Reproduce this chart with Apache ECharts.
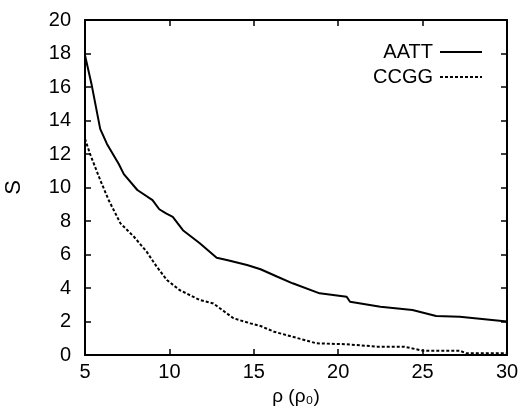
<!DOCTYPE html>
<html>
<head>
<meta charset="utf-8">
<script src="https://cdn.jsdelivr.net/npm/echarts@6/dist/echarts.min.js"></script>
<style>
  html, body { margin: 0; padding: 0; background: #fff; }
  #main { width: 521px; height: 412px; }
</style>
</head>
<body>
<div id="main"></div>
<script>
// 数据
var rhoA = [5, 5.4, 5.9, 6.3, 7.0, 7.3, 8.1, 9.0, 9.4, 9.8, 10.2, 10.8, 11.8, 12.8, 13.4, 14.6, 15.4, 16.4, 17.3, 18.9, 20.5, 20.7, 22.5, 24.4, 25.8, 27.2, 30];
var sA   = [17.9, 16.1, 13.5, 12.6, 11.4, 10.8, 9.85, 9.25, 8.7, 8.45, 8.25, 7.45, 6.67, 5.8, 5.67, 5.37, 5.12, 4.67, 4.28, 3.68, 3.48, 3.18, 2.88, 2.69, 2.33, 2.29, 2.0];

var rhoC = [5, 5.3, 5.9, 6.4, 7.1, 7.9, 8.65, 9.25, 9.85, 10.6, 11.8, 12.6, 13.8, 14.8, 15.4, 16.2, 17.3, 18.7, 20.5, 22.3, 23.9, 25.0, 27.2, 27.6, 30];
var sC   = [12.9, 12.0, 10.45, 9.25, 7.86, 7.06, 6.17, 5.27, 4.48, 3.88, 3.28, 3.08, 2.19, 1.89, 1.73, 1.39, 1.09, 0.7, 0.64, 0.5, 0.5, 0.26, 0.26, 0.1, 0.1];

var seriesNames = ['AATT', 'CCGG'];

function pairs(xs, ys) {
  var out = [];
  for (var i = 0; i < xs.length; i++) out.push([xs[i], ys[i]]);
  return out;
}

var myChart = echarts.init(document.getElementById('main'));
var font = 'Liberation Sans, Arial, sans-serif';

var axisBase = {
  axisLine: { show: true, onZero: false, lineStyle: { color: '#000', width: 2 } },
  axisTick: { show: true, inside: true, length: 6, lineStyle: { color: '#000', width: 1.5 } },
  splitLine: { show: false }
};

option = {
  backgroundColor: '#fff',
  animation: false,
  grid: { left: 85, right: 14, top: 20, bottom: 57, outerBoundsMode: 'none', containLabel: false },
  legend: {
    right: 33,
    top: 37,
    orient: 'vertical',
    align: 'right',
    itemWidth: 42,
    itemHeight: 12,
    itemGap: 5,
    itemStyle: { color: 'transparent', borderWidth: 0 },
    textStyle: { fontFamily: font, fontSize: 20, color: '#000', padding: [0, 2, 0, 0] },
    data: seriesNames
  },
  xAxis: [
    Object.assign({
      type: 'value', min: 5, max: 30, interval: 5,
      name: 'ρ (ρ₀)', nameLocation: 'middle', nameGap: 30,
      nameTextStyle: { fontFamily: font, fontSize: 19, color: '#000' },
      axisLabel: { fontFamily: font, fontSize: 20, color: '#000', margin: 7 }
    }, axisBase),
    Object.assign({
      type: 'value', min: 5, max: 30, interval: 5, position: 'top',
      axisLabel: { show: false }
    }, axisBase)
  ],
  yAxis: [
    Object.assign({
      type: 'value', min: 0, max: 20, interval: 2,
      name: 'S', nameLocation: 'middle', nameGap: 60, nameRotate: 90,
      nameTextStyle: { fontFamily: font, fontSize: 22, color: '#000' },
      axisLabel: { fontFamily: font, fontSize: 20, color: '#000', margin: 14 }
    }, axisBase),
    Object.assign({
      type: 'value', min: 0, max: 20, interval: 2, position: 'right',
      axisLabel: { show: false }
    }, axisBase)
  ],
  series: [{
    name: seriesNames[0],
    type: 'line',
    symbol: 'none',
    data: pairs(rhoA, sA),
    lineStyle: { color: '#000', width: 2, type: 'solid' },
    itemStyle: { color: '#000' }
  }, {
    name: seriesNames[1],
    type: 'line',
    symbol: 'none',
    data: pairs(rhoC, sC),
    lineStyle: { color: '#000', width: 2, type: [3, 2] },
    itemStyle: { color: '#000' }
  }]
};

myChart.setOption(option);
window.addEventListener('resize', function() {
  myChart.resize();
});
</script>
</body>
</html>
